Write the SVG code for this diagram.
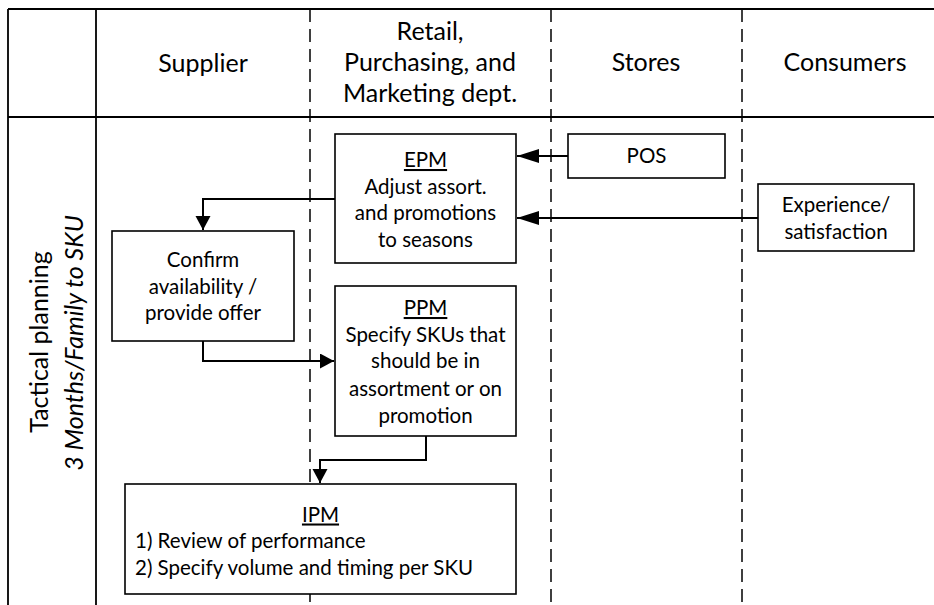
<svg xmlns="http://www.w3.org/2000/svg" width="934" height="605" viewBox="0 0 934 605">
<style>
text{font-family:Lato,"Open Sans","Liberation Sans",sans-serif;fill:#000}
.hd{font-size:25px;text-anchor:middle}
.bx{font-size:20.5px;text-anchor:middle}
.lt{font-size:20.5px;text-anchor:start}
.u{text-decoration:underline}
.box{fill:#fff;stroke:#000;stroke-width:1.6}
.frame{stroke:#000;stroke-width:1.8;fill:none}
.dash{stroke:#000;stroke-width:1.5;stroke-dasharray:13 7;fill:none}
.con{stroke:#000;stroke-width:2;fill:none}
</style>
<defs>
<marker id="a" markerUnits="userSpaceOnUse" markerWidth="16" markerHeight="16" refX="14" refY="7.5" orient="auto">
<path d="M0,0 L14,7.5 L0,15 z" fill="#000"/>
</marker>
<marker id="b" markerUnits="userSpaceOnUse" markerWidth="24" markerHeight="16" refX="22" refY="7" orient="auto">
<path d="M0,0 L22,7 L0,14 z" fill="#000"/>
</marker>
</defs>
<rect width="934" height="605" fill="#fff"/>
<g id="lanes">
<path class="frame" d="M8,9 H934 M8,9 V605 M96,9 V605 M8,117 H934"/>
<path class="dash" d="M310,9 V605 M551,9 V605 M742,9 V605"/>
<text class="hd" x="203" y="72">Supplier</text>
<text class="hd" x="430" y="40">Retail,</text>
<text class="hd" x="430" y="71">Purchasing, and</text>
<text class="hd" x="430" y="102">Marketing dept.</text>
<text class="hd" x="646" y="71">Stores</text>
<text class="hd" x="845" y="71">Consumers</text>
<text class="hd" transform="translate(48,342) rotate(-90)">Tactical planning</text>
<text class="hd" transform="translate(83,343) rotate(-90)" font-style="italic">3 Months/Family to SKU</text>
</g>
<g id="epm">
<rect class="box" x="335" y="134" width="181" height="129"/>
<text class="bx u" x="425.5" y="167">EPM</text>
<text class="bx" x="425.5" y="193.5">Adjust assort.</text>
<text class="bx" x="425.5" y="220">and promotions</text>
<text class="bx" x="425.5" y="247">to seasons</text>
</g>
<g id="pos">
<rect class="box" x="568" y="134" width="157" height="44"/>
<text class="bx" x="646.5" y="163">POS</text>
</g>
<g id="experience">
<rect class="box" x="758" y="184" width="156" height="67"/>
<text class="bx" x="836" y="212">Experience/</text>
<text class="bx" x="836" y="239">satisfaction</text>
</g>
<g id="confirm">
<rect class="box" x="112" y="231" width="182" height="110"/>
<text class="bx" x="203" y="267">Confirm</text>
<text class="bx" x="203" y="293.5">availability /</text>
<text class="bx" x="203" y="320">provide offer</text>
</g>
<g id="ppm">
<rect class="box" x="335" y="286" width="181" height="150"/>
<text class="bx u" x="425.5" y="315">PPM</text>
<text class="bx" x="425.5" y="341.5">Specify SKUs that</text>
<text class="bx" x="425.5" y="368">should be in</text>
<text class="bx" x="425.5" y="395.5">assortment or on</text>
<text class="bx" x="425.5" y="422.5">promotion</text>
</g>
<g id="ipm">
<rect class="box" x="125" y="484" width="391" height="110"/>
<text class="bx u" x="320.5" y="521.5">IPM</text>
<text class="lt" x="135" y="548">1) Review of performance</text>
<text class="lt" x="135" y="575">2) Specify volume and timing per SKU</text>
</g>
<g id="connectors">
<path class="con" d="M335,199 H203 V230" marker-end="url(#a)"/>
<path class="con" d="M568,156 H517" marker-end="url(#b)"/>
<path class="con" d="M758,218 H517" marker-end="url(#b)"/>
<path class="con" d="M203,341 V361 H334" marker-end="url(#a)"/>
<path class="con" d="M426,436 V460 H320 V483" marker-end="url(#a)"/>
</g>
</svg>
